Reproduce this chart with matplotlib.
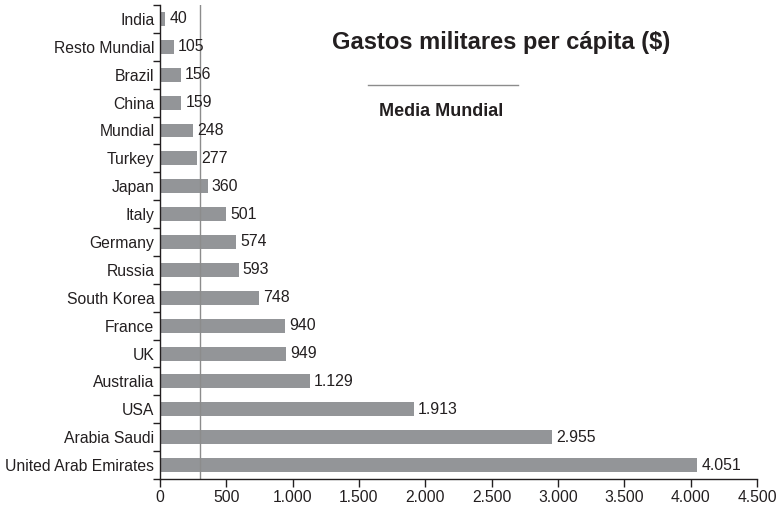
import matplotlib
matplotlib.use('Agg')
import matplotlib.pyplot as plt
import numpy as np

plt.rcParams['font.family'] = ['Liberation Sans', 'DejaVu Sans']

# data (top to bottom as shown)
countries = ['India', 'Resto Mundial', 'Brazil', 'China', 'Mundial', 'Turkey',
             'Japan', 'Italy', 'Germany', 'Russia', 'South Korea', 'France',
             'UK', 'Australia', 'USA', 'Arabia Saudi', 'United Arab Emirates']
values = [40, 105, 156, 159, 248, 277, 360, 501, 574, 593, 748, 940,
          949, 1129, 1913, 2955, 4051]
media_mundial = 300
xticks = [0, 500, 1000, 1500, 2000, 2500, 3000, 3500, 4000, 4500]


def fmt(v):
    return f'{v:,}'.replace(',', '.')


fig = plt.figure(figsize=(7.84, 5.18), dpi=100)
ax = fig.add_axes([160 / 784, 1 - 479 / 518, 597 / 784, 474 / 518])

y = np.arange(len(countries))
bars = ax.barh(y, values, height=0.5, color='#939598', edgecolor='none')
for b, v in zip(bars, values):
    ax.annotate(fmt(v), xy=(b.get_width(), b.get_y() + b.get_height() / 2),
                xytext=(3, 0), textcoords='offset points',
                va='center', ha='left', fontsize=11.4, color='#231f20')

ax.axvline(media_mundial, color='#8c8c8c', linewidth=1.0)

ax.set_ylim(len(countries) - 0.5, -0.5)
ax.set_xlim(0, 4500)
ax.set_yticks(y)
ax.set_yticklabels(countries, fontsize=11.3, color='#231f20')
ax.set_yticks(np.arange(-0.5, len(countries), 1), minor=True)
ax.tick_params(axis='y', which='major', length=0, pad=4)
ax.tick_params(axis='y', which='minor', length=5, direction='out', width=1, color='#231f20')

ax.set_xticks(xticks)
ax.set_xticklabels([fmt(t) for t in xticks], fontsize=11.3, color='#231f20')
ax.tick_params(axis='x', length=6, direction='out', width=1, color='#231f20', pad=2)

for s in ['top', 'right']:
    ax.spines[s].set_visible(False)
for s in ['left', 'bottom']:
    ax.spines[s].set_color('#231f20')
    ax.spines[s].set_linewidth(1.0)

# title and legend-like key inside the plot
fig.text(501 / 784, 1 - 42 / 518, 'Gastos militares per cápita ($)',
         ha='center', va='center', fontsize=17, fontweight='bold', color='#231f20')
fig.add_artist(plt.Line2D([368 / 784, 518 / 784], [1 - 85 / 518, 1 - 85 / 518],
                          color='#8c8c8c', linewidth=1.0))
fig.text(441 / 784, 1 - 112 / 518, 'Media Mundial',
         ha='center', va='center', fontsize=13, fontweight='bold', color='#231f20')

fig.savefig('out.png', dpi=100)
